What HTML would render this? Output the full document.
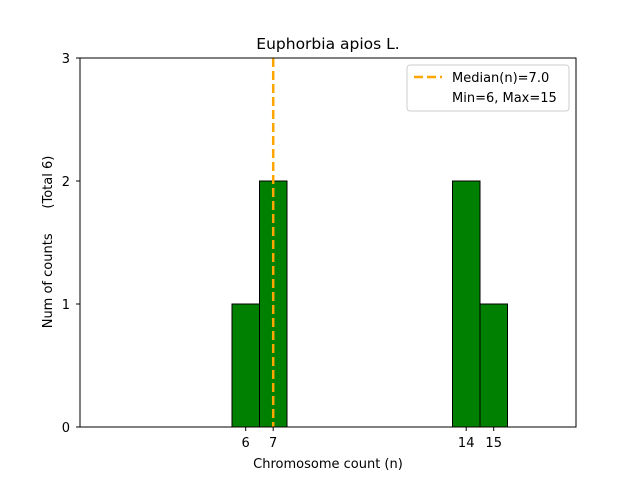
<!DOCTYPE html>
<html><head><style>body{margin:0;background:#fff}</style></head><body>
<svg width="640" height="480" xmlns="http://www.w3.org/2000/svg" font-family="DejaVu Sans, Liberation Sans, sans-serif">
<rect width="640" height="480" fill="#fff"/>
<g fill="green" stroke="#000" stroke-width="1">
<rect x="232" y="304" width="27.5" height="123"/>
<rect x="259.5" y="181" width="27.5" height="246"/>
<rect x="452.5" y="181" width="27.5" height="246"/>
<rect x="480" y="304" width="27.5" height="123"/>
</g>
<line x1="273.2" y1="58" x2="273.2" y2="427" stroke="orange" stroke-width="2.5" stroke-dasharray="9,4"/>
<rect x="80" y="58" width="496" height="369" fill="none" stroke="#000" stroke-width="1"/>
<g stroke="#000">
<line x1="80" y1="427" x2="76" y2="427"/><line x1="80" y1="304" x2="76" y2="304"/>
<line x1="80" y1="181" x2="76" y2="181"/><line x1="80" y1="58" x2="76" y2="58"/>
<line x1="245.7" y1="427" x2="245.7" y2="431"/><line x1="273.2" y1="427" x2="273.2" y2="431"/>
<line x1="466.2" y1="427" x2="466.2" y2="431"/><line x1="493.7" y1="427" x2="493.7" y2="431"/>
</g>
<g font-size="13" fill="#000">
<text x="70" y="432" text-anchor="end">0</text>
<text x="70" y="309" text-anchor="end">1</text>
<text x="70" y="186" text-anchor="end">2</text>
<text x="70" y="63" text-anchor="end">3</text>
<text x="245.7" y="447" text-anchor="middle">6</text>
<text x="273.2" y="447" text-anchor="middle">7</text>
<text x="466.2" y="447" text-anchor="middle">14</text>
<text x="493.7" y="447" text-anchor="middle">15</text>
<text x="328" y="468" text-anchor="middle">Chromosome count (n)</text>
<text transform="translate(52,242) rotate(-90)" text-anchor="middle" style="white-space:pre" xml:space="preserve">Num of counts      (Total 6)</text>
<text x="328" y="49" text-anchor="middle" font-size="15.5">Euphorbia apios L.</text>
</g>
<rect x="407" y="65" width="162" height="46" rx="3" fill="#fff" stroke="#ccc"/>
<line x1="414" y1="77" x2="442" y2="77" stroke="orange" stroke-width="2.5" stroke-dasharray="9,4"/>
<text x="452" y="82" font-size="13">Median(n)=7.0</text>
<text x="452" y="102" font-size="13">Min=6, Max=15</text>
</svg>
</body></html>
